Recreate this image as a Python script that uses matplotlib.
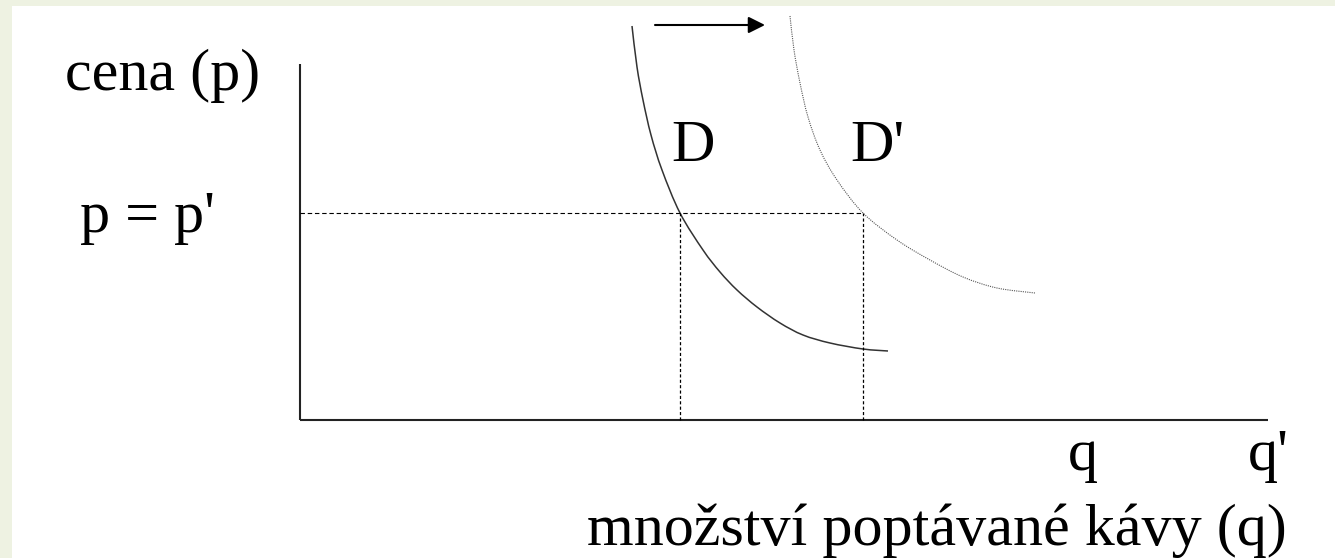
import matplotlib
matplotlib.use("Agg")
import matplotlib.pyplot as plt
from matplotlib.patches import Rectangle, PathPatch
from matplotlib.path import Path

# ---- data (quantity q, price p) relative to the axes origin ----
d_q = [332, 337, 343, 351, 362, 380, 403, 420, 437, 457, 480, 503, 530, 563, 588]
d_p = [394, 353, 320, 285, 250, 207, 170, 148, 130, 113, 97, 85, 77, 71, 69]

d2_q = [490, 494, 500, 508, 520, 537, 563, 597, 630, 663, 697, 735]
d2_p = [404, 370, 337, 303, 270, 240, 207, 180, 160, 143, 132, 127]

p_eq = 207          # p = p'
q_eq = 380          # q
q_eq2 = 563         # q'
q_max = 968         # length of quantity axis
p_max = 356         # height of price axis
shift_q = [355, 465]  # arrow showing the shift
shift_p = 395

labels = {
    "ylabel": "cena (p)",
    "peq": "p = p'",
    "D": "D",
    "D2": "D'",
    "q": "q",
    "q2": "q'",
    "xlabel": "množství poptávané kávy (q)",
}

plt.rcParams['font.family'] = ['Liberation Serif', 'DejaVu Serif']
FS = 43.3


def smooth_path(xs, ys):
    """Bezier path through the given points (Catmull-Rom tangents)."""
    pts = list(zip(xs, ys))
    verts = [pts[0]]
    codes = [Path.MOVETO]
    n = len(pts)
    for i in range(n - 1):
        p0 = pts[i - 1] if i > 0 else pts[i]
        p1 = pts[i]
        p2 = pts[i + 1]
        p3 = pts[i + 2] if i + 2 < n else pts[i + 1]
        c1 = (p1[0] + (p2[0] - p0[0]) / 6, p1[1] + (p2[1] - p0[1]) / 6)
        c2 = (p2[0] - (p3[0] - p1[0]) / 6, p2[1] - (p3[1] - p1[1]) / 6)
        verts += [c1, c2, p2]
        codes += [Path.CURVE4] * 3
    return Path(verts, codes)


fig = plt.figure(figsize=(13.35, 5.58), dpi=100, facecolor='#eef2e2')
fig.patches.append(Rectangle((12 / 1335, 0), 1 - 12 / 1335, 1 - 6 / 558,
                             transform=fig.transFigure, facecolor='white',
                             edgecolor='none', zorder=-10))
ax = fig.add_axes([0, 0, 1, 1])
ax.set_facecolor('none')
ax.set_zorder(5)
ax.set_xlim(-300, 1035)
ax.set_ylim(-138, 420)
ax.axis('off')

# axes
ax.plot([0, 0], [0, p_max], color='#222222', lw=1.5, solid_capstyle='butt')
ax.plot([0, q_max], [0, 0], color='#222222', lw=1.5, solid_capstyle='butt')

# guide lines
ax.plot([0, q_eq2], [p_eq, p_eq], color='black', lw=0.8, linestyle=(0, (4, 2.5)))
ax.plot([q_eq, q_eq], [0, p_eq], color='black', lw=0.9, linestyle=(0, (2.5, 1.8)))
ax.plot([q_eq2, q_eq2], [0, p_eq], color='black', lw=0.9, linestyle=(0, (2.5, 1.8)))

# demand curves
ax.add_patch(PathPatch(smooth_path(d_q, d_p), facecolor='none',
                       edgecolor='#333333', lw=1.1, capstyle='butt'))
ax.add_patch(PathPatch(smooth_path(d2_q, d2_p), facecolor='none',
                       edgecolor='#555555', lw=0.8, linestyle=(0, (1, 1))))

# shift arrow
ax.annotate('', xy=(shift_q[1], shift_p), xytext=(shift_q[0], shift_p),
            arrowprops=dict(arrowstyle='-|>', color='black', lw=1.5,
                            mutation_scale=25, shrinkA=0, shrinkB=0))

# texts
ax.text(-235, 330, labels["ylabel"], fontsize=FS, ha='left', va='baseline')
ax.text(-220, 188, labels["peq"], fontsize=FS, ha='left', va='baseline')
ax.text(371, 259, labels["D"], fontsize=FS, ha='left', va='baseline')
ax.text(550, 259, labels["D2"], fontsize=FS, ha='left', va='baseline')
ax.text(768, -50, labels["q"], fontsize=FS, ha='left', va='baseline')
ax.text(948, -50, labels["q2"], fontsize=FS, ha='left', va='baseline')
ax.text(287, -125, labels["xlabel"], fontsize=FS, ha='left', va='baseline')

fig.savefig('out.png', dpi=100, facecolor=fig.get_facecolor())
